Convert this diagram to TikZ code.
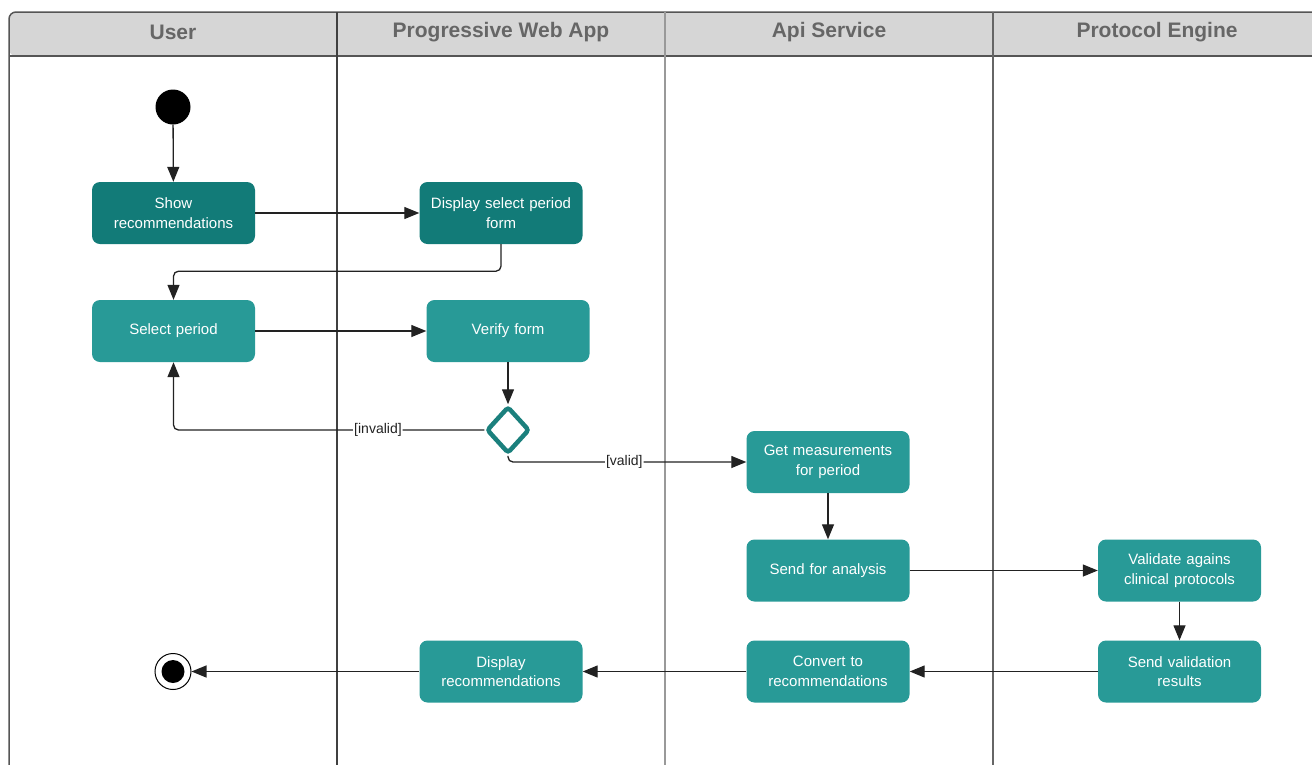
\documentclass[tikz,border=0pt]{standalone}
\usepackage{fontspec}
\setmainfont{Liberation Sans}
\usetikzlibrary{arrows.meta,shapes.geometric}

\definecolor{tealdark}{HTML}{127B78}
\definecolor{teallight}{HTML}{289A97}
\definecolor{tealline}{HTML}{1B807D}
\definecolor{headfill}{HTML}{D6D6D6}
\definecolor{headtext}{HTML}{666666}
\definecolor{framecol}{HTML}{555555}
\definecolor{conncol}{HTML}{222222}

\tikzset{
  action/.style={rounded corners=8pt, minimum width=163pt, minimum height=62pt,
    inner sep=2pt, text=white, align=center, text width=155pt,
    font=\fontsize{15}{19.5}\selectfont},
  firststep/.style={action, fill=tealdark},
  laterstep/.style={action, fill=teallight},
  decision/.style={diamond, draw=tealline, line width=4.5pt, fill=white,
    rounded corners=3pt, inner sep=0pt, minimum width=43pt, minimum height=47pt},
  initial/.style={circle, fill=black, minimum size=35pt, inner sep=0pt},
  final/.style={circle, draw=black, line width=1pt, fill=white, minimum size=36pt, inner sep=0pt,
    path picture={\fill[black] (path picture bounding box.center) circle (11.5pt);}},
  lanehead/.style={text=headtext, font=\fontsize{21}{24}\selectfont\bfseries},
  conn/.style={draw=conncol, line width=1.3pt, rounded corners=5pt,
    -{Triangle[length=15pt,width=12pt]}},
  guard/.style={fill=white, text=conncol, inner sep=1pt,
    font=\fontsize{14}{16}\selectfont},
}

\begin{document}
\begin{tikzpicture}[x=1pt,y=-1pt]
  \clip (0,0) rectangle (1312,764);

  % swimlane frame and header row
  \fill[headfill, rounded corners=7pt] (9,56) -- (9,12) -- (1330,12) -- (1330,56) -- cycle;
  \draw[framecol, line width=1.5pt, rounded corners=7pt] (9,780) -- (9,12) -- (1330,12);
  \draw[framecol, line width=1.5pt] (9,56) -- (1330,56);
  \draw[black!75, line width=1.3pt] (337,12) -- (337,780);
  \draw[black!40, line width=1.3pt] (665,12) -- (665,780);
  \draw[black!60, line width=1.3pt] (993,12) -- (993,780);

  \node[lanehead] (hUser) at (173,32) {User};
  \node[lanehead] (hPwa) at (501,32) {Progressive Web App};
  \node[lanehead] (hApi) at (829,32) {Api Service};
  \node[lanehead] (hEng) at (1157,32) {Protocol Engine};

  % activities
  \node[initial] (start) at (173,107) {};
  \node[firststep] (show) at (173.5,213) {Show\\recommendations};
  \node[firststep] (dform) at (501,213) {Display select period\\form};
  \node[laterstep] (select) at (173.5,331) {Select period};
  \node[laterstep] (verify) at (508,331) {Verify form};
  \node[decision] (dia) at (508,430) {};
  \node[laterstep] (getm) at (828,462) {Get measurements\\for period};
  \node[laterstep] (sendan) at (828,570.5) {Send for analysis};
  \node[laterstep] (valid) at (1179.5,570.5) {Validate agains\\clinical protocols};
  \node[laterstep] (sendval) at (1179.5,671.5) {Send validation\\results};
  \node[laterstep] (conv) at (828,671.5) {Convert to\\recommendations};
  \node[laterstep] (drec) at (501,671.5) {Display\\recommendations};
  \node[final] (end) at (173,671.5) {};

  % control flow
  \draw[conn] (start) -- (show);
  \draw[conn] (show) -- (dform);
  \draw[conn] (dform.south) -- ++(0,27) -| (select.north);
  \draw[conn] (select) -- (verify);
  \draw[conn] (verify.south) -- (dia.north);
  \draw[conn] (dia.west) -| node[guard, pos=0.171] {[invalid]} (select.south);
  \draw[conn] (dia.south) |- node[guard, pos=0.744] {[valid]} (getm.west);
  \draw[conn] (getm) -- (sendan);
  \draw[conn] (sendan) -- (valid);
  \draw[conn] (valid) -- (sendval);
  \draw[conn] (sendval) -- (conv);
  \draw[conn] (conv) -- (drec);
  \draw[conn] (drec) -- (end);
\end{tikzpicture}
\end{document}
